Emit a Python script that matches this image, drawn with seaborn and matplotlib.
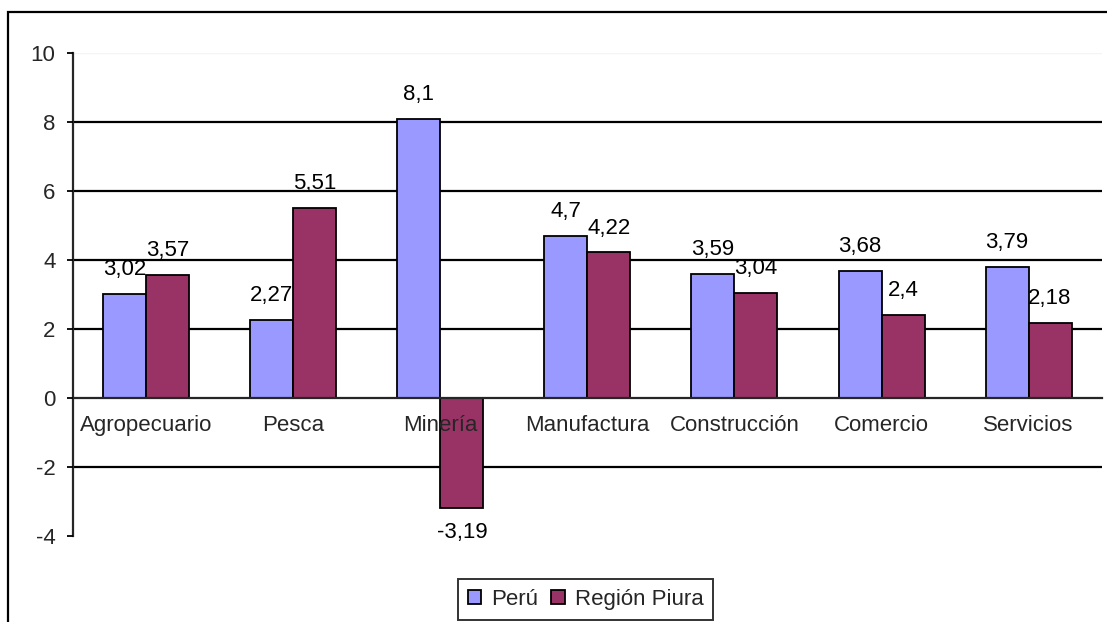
import matplotlib
matplotlib.use("Agg")
import matplotlib.pyplot as plt
from matplotlib.patches import Rectangle
import pandas as pd
import seaborn as sns

# Growth rates by economic sector (%)
sectores = ["Agropecuario", "Pesca", "Minería", "Manufactura",
            "Construcción", "Comercio", "Servicios"]
peru = [3.02, 2.27, 8.1, 4.7, 3.59, 3.68, 3.79]
piura = [3.57, 5.51, -3.19, 4.22, 3.04, 2.4, 2.18]
series = ["Perú", "Región Piura"]
colores = ["#9999FF", "#993366"]
y_ticks = [-4, -2, 0, 2, 4, 6, 8, 10]

df = pd.DataFrame({
    "sector": sectores * 2,
    "valor": peru + piura,
    "serie": [series[0]] * len(sectores) + [series[1]] * len(sectores),
})

sns.set_style("white")
plt.rcParams["font.family"] = ["Liberation Sans", "DejaVu Sans"]
FS = 16

fig = plt.figure(figsize=(11.07, 6.22), dpi=100)
ax = fig.add_axes([0.0659, 0.1383, 0.9296, 0.7765])
ax.set_axisbelow(False)

sns.barplot(data=df, x="sector", y="valor", hue="serie", order=sectores,
            hue_order=series, palette=colores, width=0.585, gap=0,
            edgecolor="black", linewidth=1.3, saturation=1, ax=ax,
            legend=False, zorder=2)

# Value labels with decimal comma
for cont in ax.containers:
    ax.bar_label(cont, labels=[f"{v:g}".replace(".", ",") for v in cont.datavalues],
                 padding=10, fontsize=FS, color="black", zorder=4)

ax.set_xlim(-0.5, len(sectores) - 0.5)
ax.set_ylim(-4, 10)
ax.set_yticks(y_ticks)
ax.set_yticklabels([str(t) for t in y_ticks], fontsize=FS)

# Horizontal gridlines (none at the top and bottom limits)
for t in y_ticks:
    if t not in (-4, 0, 10):
        ax.axhline(t, color="black", lw=1.6, zorder=1)
ax.axhline(10, color="#f4f4f4", lw=1.0, zorder=1)

# Category axis crosses at zero; ticks mark category boundaries
ax.spines["bottom"].set_position(("data", 0))
ax.spines["bottom"].set_linewidth(1.6)
ax.spines["left"].set_linewidth(1.6)
ax.spines["top"].set_visible(False)
ax.spines["right"].set_visible(False)

ax.set_xticks(range(len(sectores)))
ax.set_xticklabels(sectores, fontsize=FS)
ax.set_xticks([i - 0.5 for i in range(len(sectores) + 1)], minor=True)
ax.tick_params(axis="x", which="major", length=0, pad=12)
ax.tick_params(axis="x", which="minor", length=4.5, width=1.3, direction="out",
               color="black")
ax.tick_params(axis="y", length=4.5, width=1.3, direction="out", color="black",
               pad=8, left=True)
ax.set_xlabel("")
ax.set_ylabel("")
ax.set_facecolor("white")

# Legend
handles = [Rectangle((0, 0), 1, 1, facecolor=c, edgecolor="black", lw=1.3)
           for c in colores]
leg = fig.legend(handles, series, loc="center", bbox_to_anchor=(0.529, 0.036),
                 ncol=2, fontsize=FS, frameon=True, fancybox=False,
                 edgecolor="black", handlelength=0.6, handleheight=0.6,
                 handletextpad=0.45, columnspacing=0.6, borderpad=0.45,
                 borderaxespad=0)
leg.get_frame().set_linewidth(1.4)

# Chart border
fig.patches.append(Rectangle((8 / 1107, -0.05), 1.1, 1 - 12 / 622 + 0.05,
                             transform=fig.transFigure, fill=False,
                             edgecolor="black", lw=1.6, zorder=0))

fig.savefig("out.png", dpi=100, facecolor="white")
